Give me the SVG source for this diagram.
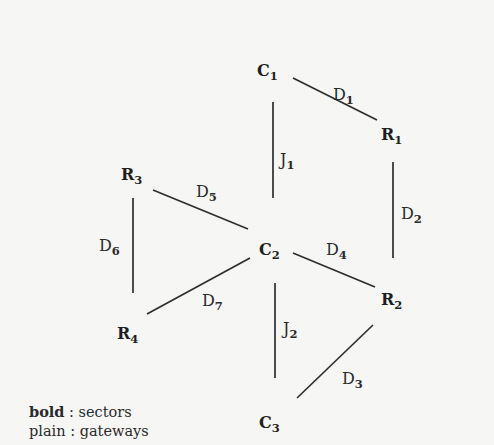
<svg xmlns="http://www.w3.org/2000/svg" width="494" height="445" viewBox="0 0 494 445">
<style>
.bg{fill:#f6f6f5}
.edge{stroke:#2e2e2e;stroke-width:1.7;fill:none}
.sec{font-family:"DejaVu Serif","Liberation Serif",serif;font-weight:bold;font-size:16px;fill:#1e1e1e}
.gw{font-family:"DejaVu Serif","Liberation Serif",serif;font-size:16px;fill:#2a2a2a}
.sub{font-size:11.5px;font-weight:bold}
.leg{font-family:"DejaVu Serif","Liberation Serif",serif;font-size:14.5px;fill:#2a2a2a}
</style>
<rect class="bg" x="0" y="0" width="494" height="445"/>
<g id="connectors">
  <line class="edge" x1="293" y1="78" x2="377" y2="120"/>
  <line class="edge" x1="273" y1="102" x2="273" y2="198"/>
  <line class="edge" x1="393" y1="162" x2="393" y2="258"/>
  <line class="edge" x1="153" y1="190" x2="248" y2="229"/>
  <line class="edge" x1="133" y1="198" x2="133" y2="293"/>
  <line class="edge" x1="293" y1="253" x2="375" y2="287"/>
  <line class="edge" x1="250" y1="258" x2="147" y2="314"/>
  <line class="edge" x1="275" y1="283" x2="275" y2="378"/>
  <line class="edge" x1="373" y1="325" x2="297" y2="398"/>
  <text class="gw" x="333" y="100">D<tspan class="sub" dy="4">1</tspan></text>
  <text class="gw" x="280" y="165">J<tspan class="sub" dy="4">1</tspan></text>
  <text class="gw" x="401" y="219">D<tspan class="sub" dy="4">2</tspan></text>
  <text class="gw" x="196" y="197">D<tspan class="sub" dy="4">5</tspan></text>
  <text class="gw" x="99" y="251">D<tspan class="sub" dy="4">6</tspan></text>
  <text class="gw" x="326" y="255">D<tspan class="sub" dy="4">4</tspan></text>
  <text class="gw" x="202" y="306">D<tspan class="sub" dy="4">7</tspan></text>
  <text class="gw" x="283" y="334">J<tspan class="sub" dy="4">2</tspan></text>
  <text class="gw" x="342" y="384">D<tspan class="sub" dy="4">3</tspan></text>
</g>
<g id="C1"><text class="sec" x="257" y="76">C<tspan class="sub" dy="4">1</tspan></text></g>
<g id="R1"><text class="sec" x="381" y="140">R<tspan class="sub" dy="4">1</tspan></text></g>
<g id="R3"><text class="sec" x="121" y="180">R<tspan class="sub" dy="4">3</tspan></text></g>
<g id="C2"><text class="sec" x="259" y="255">C<tspan class="sub" dy="4">2</tspan></text></g>
<g id="R2"><text class="sec" x="381" y="305">R<tspan class="sub" dy="4">2</tspan></text></g>
<g id="R4"><text class="sec" x="117" y="339">R<tspan class="sub" dy="4">4</tspan></text></g>
<g id="C3"><text class="sec" x="259" y="428">C<tspan class="sub" dy="4">3</tspan></text></g>
<g id="legend">
  <text class="leg" x="29" y="417"><tspan font-weight="bold">bold</tspan> : sectors</text>
  <text class="leg" x="29" y="436">plain : gateways</text>
</g>
</svg>
